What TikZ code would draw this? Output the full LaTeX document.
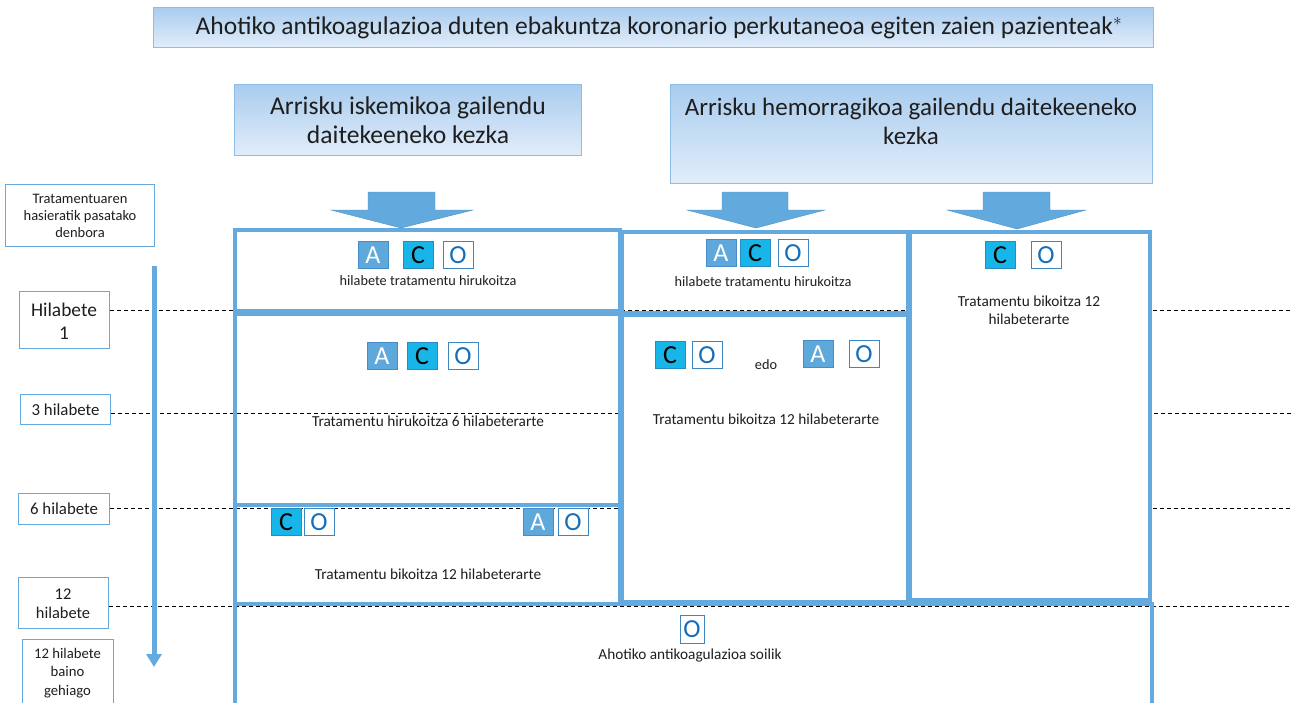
\documentclass[tikz,border=0pt]{standalone}
\usepackage{fontspec}
\setmainfont{Carlito}
\usetikzlibrary{arrows.meta}
\definecolor{frame}{RGB}{100,170,223}
\definecolor{hdrtop}{RGB}{169,204,238}
\definecolor{hdrbot}{RGB}{226,237,250}
\definecolor{hdrline}{RGB}{140,190,232}
\definecolor{blockfill}{RGB}{98,170,222}
\definecolor{afill}{RGB}{95,168,220}
\definecolor{aline}{RGB}{70,140,200}
\definecolor{cfill}{RGB}{24,182,232}
\definecolor{cline}{RGB}{40,140,195}
\definecolor{oline}{RGB}{60,135,195}
\definecolor{otext}{RGB}{20,110,185}
\definecolor{txt}{RGB}{30,30,30}
\begin{document}
\begin{tikzpicture}[x=1pt,y=-1pt,
  hdr/.style={draw=hdrline, line width=0.9, top color=hdrtop, bottom color=hdrbot, inner sep=0},
  lbl/.style={draw=frame, line width=1.1, fill=white, inner sep=0},
  lbltext/.style={align=center, text=txt, inner sep=0},
  panel/.style={draw=frame, line width=3.5},
  sq/.style={minimum width=30, minimum height=27, inner sep=0, line width=0.9, font=\fontsize{26}{26}\selectfont},
  sqA/.style={sq, draw=aline, fill=afill, text=white},
  sqC/.style={sq, draw=cline, fill=cfill, text=black},
  sqO/.style={sq, draw=oline, fill=white, text=otext},
  small/.style={font=\fontsize{15.3}{18}\selectfont, text=txt, align=center, inner sep=0},
  smaller/.style={small, font=\fontsize{14.3}{18}\selectfont},
  guide/.style={draw=black, line width=0.8, dash pattern=on 4pt off 3pt},
  blockarrow/.style={fill=blockfill, draw=blockfill!85!black, line width=0.4},
  timeline/.style={draw=frame, line width=5, -{Triangle[width=15pt,length=13pt]}}
]
\useasboundingbox (0,0) rectangle (1292,702);

% title
\node[hdr, minimum width=1000, minimum height=40, anchor=north west] (title) at (153,7) {};
\node[font=\fontsize{25.5}{30}\selectfont, text=txt, inner sep=0] (titletext) at (659,28) {Ahotiko antikoagulazioa duten ebakuntza koronario perkutaneoa egiten zaien pazienteak$^{*}$};

% headers
\node[hdr, minimum width=347, minimum height=71, anchor=north west] (h1) at (234,84) {};
\node[font=\fontsize{25.6}{29}\selectfont, text=txt, align=center, inner sep=0] (h1text) at (h1.center) {Arrisku iskemikoa gailendu\\daitekeeneko kezka};
\node[hdr, minimum width=482, minimum height=99, anchor=north west] (h2) at (670,84) {};
\node[font=\fontsize{25}{29}\selectfont, text=txt, align=center, inner sep=0] (h2text) at (911,121) {Arrisku hemorragikoa gailendu daitekeeneko\\kezka};

% left labels
\node[lbl, minimum width=149, minimum height=62, anchor=north west] (t0) at (5,184) {};
\node[lbltext, font=\fontsize{14.5}{17}\selectfont] (t0text) at (80,216) {Tratamentuaren\\hasieratik pasatako\\denbora};
\node[lbl, minimum width=90, minimum height=57, anchor=north west] (m1) at (19,291) {};
\node[lbltext, font=\fontsize{19.4}{23}\selectfont] (m1text) at (64,321) {Hilabete\\1};
\node[lbl, minimum width=90, minimum height=30, anchor=north west] (m3) at (20,394) {};
\node[lbltext, font=\fontsize{16.8}{19}\selectfont] (m3text) at (m3.center) {3 hilabete};
\node[lbl, minimum width=91, minimum height=31, anchor=north west] (m6) at (18,493) {};
\node[lbltext, font=\fontsize{16.8}{19}\selectfont] (m6text) at (m6.center) {6 hilabete};
\node[lbl, minimum width=90, minimum height=51, anchor=north west] (m12) at (18,577) {};
\node[lbltext, font=\fontsize{16.4}{19}\selectfont] (m12text) at (63,604) {12\\hilabete};
\node[lbl, minimum width=91, minimum height=70, anchor=north west] (m13) at (22,639) {};
\node[lbltext, font=\fontsize{14.7}{18.5}\selectfont] (m13text) at (67.5,673) {12 hilabete\\baino\\gehiago};

% guide lines
\coordinate (g1) at (1292,310);
\coordinate (g3) at (1292,413);
\coordinate (g6) at (1292,508);
\coordinate (g12) at (1292,606);
\draw[guide] (m1.east |- 0,310) -- (g1);
\draw[guide] (m3.east |- 0,413) -- (g3);
\draw[guide] (m6.east |- 0,508) -- (g6);
\draw[guide] (m12.east |- 0,606) -- (g12);

% timeline
\coordinate (tl0) at (154,266);
\coordinate (tl1) at (154,667);
\draw[timeline] (tl0) -- (tl1);

% panels
\draw[panel] (235,230) rectangle (620,311);
\draw[panel] (235,314) rectangle (620,505);
\draw[panel] (235,505) rectangle (620,604);
\draw[panel] (622,232) rectangle (908,313);
\draw[panel, fill=white] (622,315) rectangle (908,602);
\draw[panel, fill=white] (910,232) rectangle (1150,600);
\draw[panel] (235,720) -- (235,604) -- (1152,604) -- (1152,720);

% block arrows
\draw[blockarrow] (368,192) -- (435,192) -- (435,210) -- (473,210) -- (401,228) -- (331,210) -- (368,210) -- cycle;
\draw[blockarrow] (722,192) -- (788,192) -- (788,210) -- (825,210) -- (756,228) -- (687,210) -- (722,210) -- cycle;
\draw[blockarrow] (983,192) -- (1050,192) -- (1050,210) -- (1086,210) -- (1017,229) -- (947,210) -- (983,210) -- cycle;

% column 1
\node[sqA] (a11) at (373,255) {A};
\node[sqC] (c11) at (418,255) {C};
\node[sqO] (o11) at (458,255) {O};
\node[smaller] (l11) at (428,281) {hilabete tratamentu hirukoitza};
\node[sqA] (a12) at (382,356) {A};
\node[sqC] (c12) at (422,356) {C};
\node[sqO] (o12) at (463,356) {O};
\node[small] (l12) at (428,421) {Tratamentu hirukoitza 6 hilabeterarte};
\node[sqC] (c13) at (286,522) {C};
\node[sqO] (o13) at (319,522) {O};
\node[sqA] (a13) at (538,522) {A};
\node[sqO] (o13b) at (573,522) {O};
\node[small] (l13) at (428,574) {Tratamentu bikoitza 12 hilabeterarte};

% column 2
\node[sqA] (a21) at (721,253) {A};
\node[sqC] (c21) at (755,253) {C};
\node[sqO] (o21) at (793,253) {O};
\node[smaller] (l21) at (763,282) {hilabete tratamentu hirukoitza};
\node[sqC] (c22) at (670,355) {C};
\node[sqO] (o22) at (707,355) {O};
\node[smaller] (edo) at (766,365) {edo};
\node[sqA] (a22) at (818,354) {A};
\node[sqO] (o22b) at (864,354) {O};
\node[small] (l22) at (766,419) {Tratamentu bikoitza 12 hilabeterarte};

% column 3
\node[sqC] (c31) at (1000,255) {C};
\node[sqO] (o31) at (1046,255) {O};
\node[small] (l31) at (1029,310) {Tratamentu bikoitza 12\\hilabeterarte};

% bottom
\node[sqO, minimum width=24, minimum height=28] (o41) at (692,629) {O};
\node[small] (l41) at (690,655) {Ahotiko antikoagulazioa soilik};
\end{tikzpicture}
\end{document}
